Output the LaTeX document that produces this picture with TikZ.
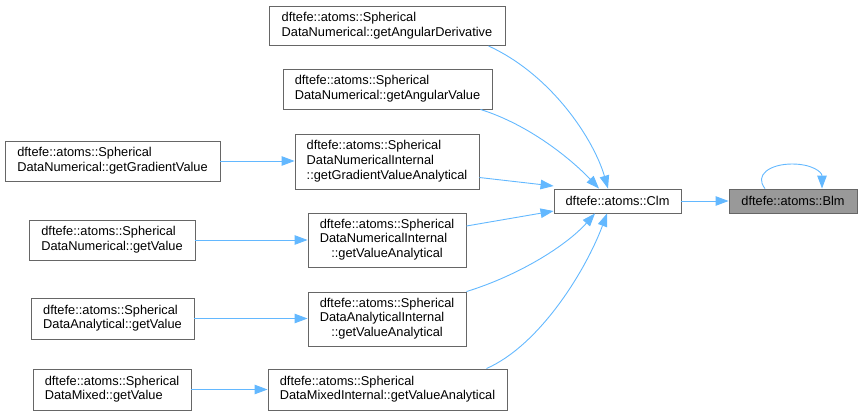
\documentclass[tikz,border=0pt]{standalone}
\usepackage{fontspec}
\setmainfont{Liberation Sans}
\usetikzlibrary{arrows.meta}
\definecolor{edgeblue}{HTML}{63B8FF}
\definecolor{boxgray}{HTML}{666666}
\definecolor{fillgray}{HTML}{999999}
\tikzset{
  fn/.style={draw=boxgray, line width=0.9pt, fill=white, inner sep=0pt, rectangle, font=\fontsize{12.8}{14.7}\selectfont},
  cur/.style={fn, fill=fillgray},
  call/.style={draw=edgeblue, line width=0.9pt, -{Triangle[length=13pt,width=9.5pt]}},
}
\newcommand{\lns}[3]{\begin{tabular}{@{}l@{}}#1\\#2\\\multicolumn{1}{@{}c@{}}{#3}\end{tabular}}
\newcommand{\lnt}[2]{\begin{tabular}{@{}l@{}}#1\\#2\end{tabular}}
\begin{document}
\begin{tikzpicture}[x=1pt,y=-1pt]
\useasboundingbox (0,0) rectangle (861,416);
\node[fn, minimum width=236pt, minimum height=39pt] (ad) at (387,26) {\lnt{dftefe::atoms::Spherical}{DataNumerical::getAngularDerivative}};
\node[fn, minimum width=209pt, minimum height=40pt] (av) at (387.5,89) {\lnt{dftefe::atoms::Spherical}{DataNumerical::getAngularValue}};
\node[fn, minimum width=184pt, minimum height=55pt] (ga) at (387,161.5) {\lns{dftefe::atoms::Spherical}{DataNumericalInternal}{::getGradientValueAnalytical}};
\node[fn, minimum width=215pt, minimum height=40pt] (gv) at (112.5,161) {\lnt{dftefe::atoms::Spherical}{DataNumerical::getGradientValue}};
\node[fn, minimum width=158pt, minimum height=54pt] (va) at (387,240) {\lns{dftefe::atoms::Spherical}{DataNumericalInternal}{::getValueAnalytical}};
\node[fn, minimum width=166pt, minimum height=40pt] (nv) at (112,240) {\lnt{dftefe::atoms::Spherical}{DataNumerical::getValue}};
\node[fn, minimum width=158pt, minimum height=54pt] (aa) at (387,319) {\lns{dftefe::atoms::Spherical}{DataAnalyticalInternal}{::getValueAnalytical}};
\node[fn, minimum width=163pt, minimum height=41pt] (av2) at (112.5,318.5) {\lnt{dftefe::atoms::Spherical}{DataAnalytical::getValue}};
\node[fn, minimum width=239pt, minimum height=41pt] (ma) at (387.5,389.5) {\lnt{dftefe::atoms::Spherical}{DataMixedInternal::getValueAnalytical}};
\node[fn, minimum width=158pt, minimum height=41pt] (mv) at (112,389.5) {\lnt{dftefe::atoms::Spherical}{DataMixed::getValue}};
\node[fn, minimum width=127pt, minimum height=24pt] (clm) at (617.5,201) {dftefe::atoms::Clm};
\node[cur, minimum width=128pt, minimum height=24pt] (blm) at (793,201) {dftefe::atoms::Blm};
% edges
\draw[call] (gv.east) -- (ga.west |- gv.east);
\draw[call] (nv.east) -- (va.west |- nv.east);
\draw[call] (av2.east) -- (aa.west |- av2.east);
\draw[call] (mv.east) -- (ma.west |- mv.east);
\draw[call] (clm.east) -- (blm.west);
\draw[call] (ad.south east) ++(-17,0) coordinate (s1) .. controls (552,75) and (594,140) .. (clm.north -| 608,0);
\draw[call] (av.south east) ++(-12,0) coordinate (s2) .. controls (530,125) and (572,160) .. (clm.north -| 599,0);
\draw[call] (ga.east) ++(0,16) coordinate (s3) -- (clm.west |- 0,186);
\draw[call] (va.east) ++(0,-14) coordinate (s4) -- (clm.west |- 0,211);
\draw[call] (aa.north east) coordinate (s5) .. controls (520,275) and (567,245) .. (clm.south -| 595,0);
\draw[call] (ma.north east) ++(-21,0) coordinate (s6) .. controls (540,345) and (586,270) .. (clm.south -| 607,0);
\draw[call] (blm.north -| 765,0) .. controls (754,175) and (770,164) .. (792,164) .. controls (812,164) and (822,172) .. (blm.north -| 822,0);
\end{tikzpicture}
\end{document}
